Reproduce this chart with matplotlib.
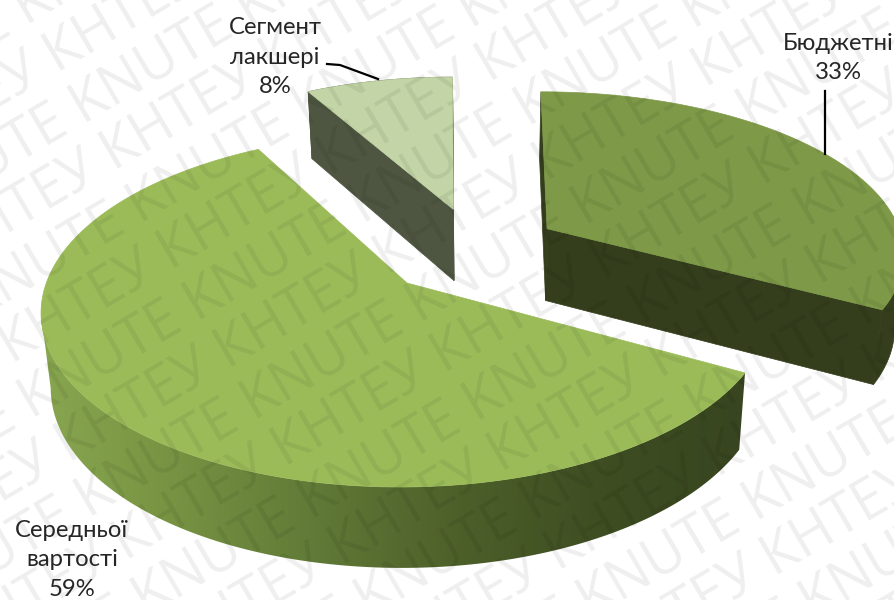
import numpy as np
import matplotlib
matplotlib.use('Agg')
import matplotlib.pyplot as plt
from matplotlib.colors import LinearSegmentedColormap
from matplotlib.patches import Polygon

categories = ['Бюджетні', 'Середньої\nвартості', 'Сегмент\nлакшері']
shares = [33, 59, 8]

# зсув секторів у площині круга (u, v), нахил і розтяг кожного сектора
explode = [(0.395, 0.33), (0.0, 0.0), (0.13, 0.455)]
shear = [14, 6, 6]
stretch = [1.025, 1.0, 1.0]
top_colors = ['#7E9A48', '#9BBB59', '#C3D5A6']
side_colors = ['#343E1C', None, '#4E5641']

mark_words = ['KNUTE', 'КНТЕУ']

plt.rcParams['font.family'] = ['Lato', 'Open Sans', 'DejaVu Sans']


def project(u, v, sh=6):
    # перспективна проекція площини круга на полотно
    f = 1 + 0.1525 * v
    return 407 + (360.7 * u + sh * v) / f, 283 - 172.9 * v / f


def lower(x, y):
    # відповідна точка на нижній основі
    return x - (x - 480) * 0.022, y + 67 + 0.035 * (y - 90)


fig = plt.figure(figsize=(8.94, 6), dpi=100)
ax = fig.add_axes([0, 0, 1, 1])
ax.set_xlim(0, 894)
ax.set_ylim(600, 0)
ax.axis('off')

# кути секторів: за годинниковою стрілкою від 12 години
ends = 90 - np.cumsum(shares) * 3.6
starts = np.r_[90, ends[:-1]]

wall_cmap = LinearSegmentedColormap.from_list('wall', [
    (0.0, '#88A650'), (0.16, '#7A9644'), (0.34, '#66803A'), (0.5, '#566B30'),
    (0.6, '#4C5F29'), (0.8, '#3E4D22'), (1.0, '#384520')])

for i in [2, 0, 1]:
    du, dv = explode[i]
    th = np.radians(np.linspace(starts[i], ends[i], 240))
    rx, ry = project(stretch[i] * np.cos(th) + du, np.sin(th) + dv, shear[i])
    ax0, ay0 = project(du, dv, shear[i])
    bx, by = lower(rx, ry)
    abx, aby = lower(ax0, ay0)

    # бічна стінка по дузі: лише видима частина до дотичної контуру
    if i == 1:
        r_keep = np.arange(np.argmin(rx) + 1)
        b_keep = np.arange(np.argmin(bx) + 1)
    elif i == 0:
        r_keep = np.arange(np.argmax(rx), len(rx))
        b_keep = np.arange(np.argmax(bx), len(bx))
    else:
        r_keep = b_keep = np.arange(len(rx))
    wall = np.column_stack([np.r_[rx[r_keep], bx[b_keep][::-1]],
                            np.r_[ry[r_keep], by[b_keep][::-1]]])
    if side_colors[i] is None:
        poly = Polygon(wall, closed=True, fc='none', ec='none', transform=ax.transData)
        ax.add_patch(poly)
        grad = ax.imshow(np.linspace(0, 1, 256)[None, :], cmap=wall_cmap, aspect='auto',
                         extent=(40, 747, 600, 0), zorder=2)
        grad.set_clip_path(poly)
    else:
        ax.fill(wall[:, 0], wall[:, 1], color=side_colors[i], lw=0.5, zorder=2)
        # радіальні грані вирізаного сектора
        for k in (0, -1):
            ax.fill([rx[k], bx[k], abx, ax0], [ry[k], by[k], aby, ay0],
                    color=side_colors[i], lw=0.5, zorder=2)

    ax.fill(np.r_[rx, ax0], np.r_[ry, ay0], color=top_colors[i], lw=0.5, zorder=3)

ax.set_xlim(0, 894)
ax.set_ylim(600, 0)

# водяний знак поверх круга: рядки двох слів чергуються
angle = np.radians(30.5)
along = np.array([np.cos(angle), -np.sin(angle)])
across = np.array([np.sin(angle), np.cos(angle)])
row_step = 114 * across - 1 * along
anchors = [np.array([245.7, 425.6]), np.array([307.4, 453.9])]
for word, anchor in zip(mark_words, anchors):
    for row in range(-8, 9):
        pos = anchor + row * row_step - 5 * 190 * along
        ax.text(pos[0], pos[1], ' '.join([word] * 11), rotation=30.5, rotation_mode='anchor',
                ha='left', va='baseline', fontsize=40, color='black', alpha=0.068,
                zorder=5, clip_on=True, family=['Open Sans', 'DejaVu Sans'])

# підписи
label_font = dict(fontsize=17.2, color='#262626', ha='center', va='center', zorder=6,
                  linespacing=1.5, clip_on=True)
for name, share, (lx, ly) in zip(categories, shares, [(838, 58), (72, 560), (275, 57)]):
    ax.text(lx, ly, f'{name}\n{share}%', **label_font)

ax.plot([327, 340, 378], [64, 65, 79], color='black', lw=1.6, zorder=6)
ax.plot([825, 825], [91, 154], color='black', lw=1.6, zorder=6)

fig.savefig('out.png', dpi=100)
